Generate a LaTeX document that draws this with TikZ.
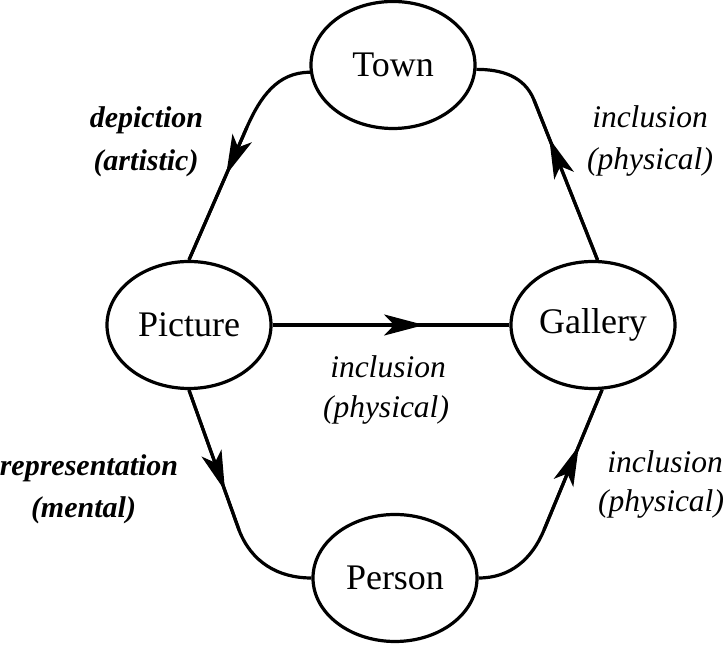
\documentclass[tikz,border=0pt]{standalone}
\usepackage{fontspec}
\setmainfont{Liberation Serif}
\usetikzlibrary{shapes.geometric, arrows.meta, decorations.markings}

\tikzset{
  ent/.style={draw, ellipse, line width=3.2pt, minimum width=164pt, minimum height=127pt,
    inner sep=0pt, font=\fontsize{36}{40}\selectfont},
  conn/.style={line width=3.2pt},
  arrowat/.style={line width=3.2pt, postaction={decorate},
    decoration={markings, mark=at position #1 with {\arrow{Stealth[length=40pt,width=21pt,inset=10pt]}}}},
  lab/.style={inner sep=0pt, anchor=base, font=\fontsize{31.5}{40}\selectfont\itshape},
  blab/.style={inner sep=0pt, anchor=base, font=\fontsize{30}{40}\selectfont\bfseries\itshape}
}

\begin{document}
\begin{tikzpicture}[x=1pt, y=1pt]
\useasboundingbox (0,0) rectangle (724,647);

% entities
\node[ent] (town) at (393,582) {Town};
\node[ent] (pic)  at (189,322) {Picture};
\node[ent] (gal)  at (593,322) {Gallery};
\node[ent] (per)  at (395,69)  {Person};

% bend points
\coordinate (b1) at (247,520);
\coordinate (b2) at (534,547);
\coordinate (b3) at (239,117);
\coordinate (b4) at (544,117);

% Town -> Picture
\draw[conn] (town.185) to[out=180, in=66] (b1) -- (pic.north);
\draw[arrowat=0.36] (b1) -- (pic.north);

% Gallery -> Town
\draw[conn] (gal.86) -- (b2) to[out=112, in=0] (town.-3);
\draw[arrowat=0.76] (gal.86) -- (b2);

% Picture -> Gallery
\draw[arrowat=0.64] (pic.east) -- (gal.west);

% Picture -> Person
\draw[conn] (pic.south) -- (b3) to[out=-69, in=180] (per.west);
\draw[arrowat=0.72] (pic.south) -- (b3);

% Person -> Gallery
\draw[conn] (per.east) to[out=0, in=247.5] (b4) -- (gal.-82);
\draw[arrowat=0.6] (b4) -- (gal.-82);

% labels
\node[blab] (l1a) at (146.5,519) {depiction};
\node[blab] (l1b) at (146,476) {(artistic)};

\node[lab] (l2a) at (650,519) {inclusion};
\node[lab] (l2b) at (650,477) {(physical)};

\node[lab] (l3a) at (388,269) {inclusion};
\node[lab] (l3b) at (386,229) {(physical)};

\node[lab] (l4a) at (665,174) {inclusion};
\node[lab] (l4b) at (661,135) {(physical)};

\node[blab] (l5a) at (89,171) {representation};
\node[blab] (l5b) at (83.5,129) {(mental)};
\end{tikzpicture}
\end{document}
